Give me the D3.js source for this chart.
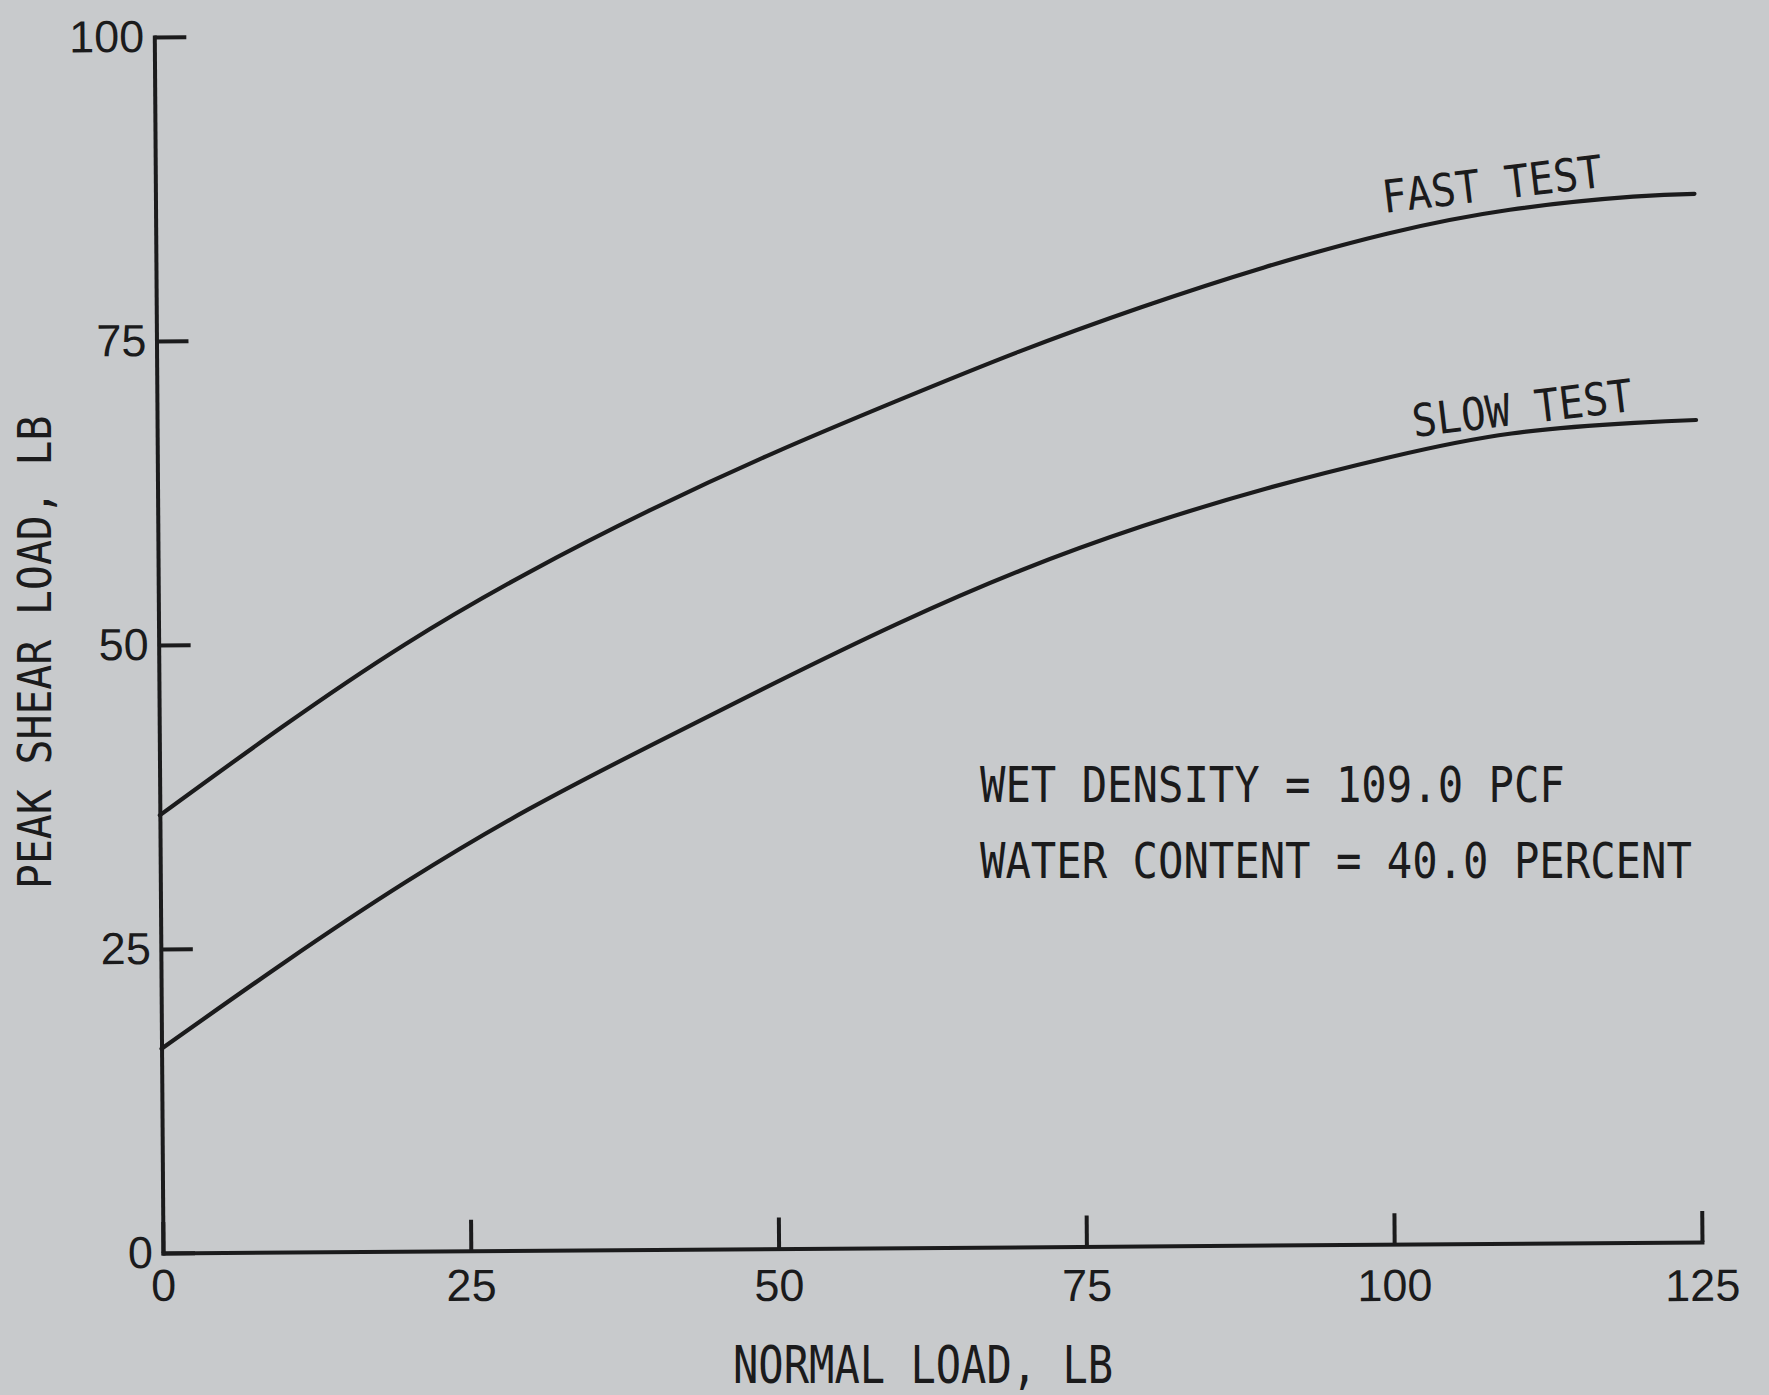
<!DOCTYPE html>
<html>
<head>
<meta charset="utf-8">
<script src="https://cdn.jsdelivr.net/npm/d3@7"></script>
<style>
  html, body { margin: 0; padding: 0; background: #c8cacc; }
  svg { display: block; }
</style>
</head>
<body>
<svg id="chart" width="1769" height="1395"></svg>
<script>
// Normal load (lb) at which the shear curves are read
const normalLoad = [0, 10, 20, 30, 40, 50, 60, 70, 80, 90, 100, 110, 120, 125];
// Peak shear load (lb), fast test
const fastTest = [36.0, 43.2, 49.9, 55.7, 60.8, 65.4, 69.6, 73.6, 77.2, 80.4, 83.1, 85.0, 86.0, 86.2];
// Peak shear load (lb), slow test
const slowTest = [16.8, 23.8, 30.4, 36.3, 41.5, 46.5, 51.3, 55.6, 59.2, 62.2, 64.7, 66.6, 67.4, 67.6];

const xTicks = [0, 25, 50, 75, 100, 125];
const yTicks = [0, 25, 50, 75, 100];
const seriesLabels = ["FAST TEST", "SLOW TEST"];
const notes = ["WET DENSITY = 109.0 PCF", "WATER CONTENT = 40.0 PERCENT"];
const xTitle = "NORMAL LOAD, LB";
const yTitle = "PEAK SHEAR LOAD, LB";

const ink = "#1b1b1c";
const svg = d3.select("#chart");

// The drafted frame sits a little off square on the sheet
const tilt = -0.41;
const tanTilt = Math.tan(-tilt * Math.PI / 180);
const plotW = 1539, plotH = 1216;

const x = d3.scaleLinear().domain([0, 125]).range([0, plotW]);
const y = d3.scaleLinear().domain([0, 100]).range([0, -plotH]);

const plot = svg.append("g")
  .attr("transform", `translate(163,1253) rotate(${tilt})`);

// Y axis: ticks point inward, labels on the left
const yAxis = plot.append("g")
  .call(d3.axisLeft(y).tickValues(yTicks).tickFormat(d3.format("d"))
    .tickSizeInner(-32).tickSizeOuter(0).tickPadding(10));

// X axis: ticks point upward, labels below
const xAxis = plot.append("g")
  .call(d3.axisBottom(x).tickValues(xTicks).tickFormat(d3.format("d"))
    .tickSizeInner(-31).tickSizeOuter(0).tickPadding(16));

[xAxis, yAxis].forEach(a => {
  a.attr("font-size", null).attr("font-family", null);
  a.select(".domain").attr("stroke", ink).attr("stroke-width", 4).attr("stroke-linecap", "square");
  a.selectAll(".tick line").attr("stroke", ink).attr("stroke-width", 4);
  a.selectAll(".tick text")
    .attr("fill", ink)
    .style("font-family", "'Liberation Sans', Arial, sans-serif")
    .style("font-size", "45px");
});
// keep the number row level on the page
xAxis.selectAll(".tick text").attr("y", d => 16 + x(d) * tanTilt);

// Shear curves
const line = d3.line()
  .x(d => x(d[0]))
  .y(d => y(d[1]))
  .curve(d3.curveNatural);

[fastTest, slowTest].forEach(vals => {
  plot.append("path")
    .datum(normalLoad.map((n, i) => [n, vals[i]]))
    .attr("d", line)
    .attr("fill", "none")
    .attr("stroke", ink)
    .attr("stroke-width", 4.2)
    .attr("stroke-linecap", "round");
});

const mono = "'DejaVu Sans Mono', 'Liberation Mono', monospace";

// Condensed lettering: monospace glyphs narrowed horizontally
function letter(tx, ty, angle, sx, size, t) {
  svg.append("text")
    .attr("transform", `translate(${tx},${ty}) rotate(${angle}) scale(${sx},1)`)
    .attr("fill", ink)
    .style("font-family", mono)
    .style("font-size", size + "px")
    .text(t);
}

// Curve names, set along the curve ends
const labelPos = [[1384, 213], [1414, 437]];
seriesLabels.forEach((t, i) => letter(labelPos[i][0], labelPos[i][1], -6.8, 0.91, 45, t));

// Sample notes
const noteRows = [802, 878];
notes.forEach((t, i) => letter(980, noteRows[i], 0, 0.845, 50, t));

// Axis titles
letter(733, 1383, 0, 0.81, 52, xTitle);
letter(51, 889, -90, 0.9, 46, yTitle);
</script>
</body>
</html>
